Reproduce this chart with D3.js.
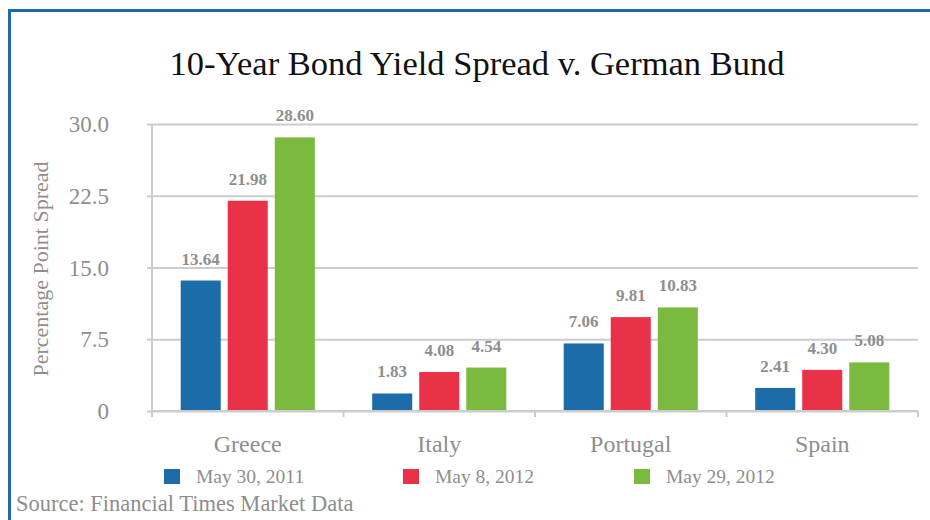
<!DOCTYPE html>
<html>
<head>
<meta charset="utf-8">
<script src="https://cdn.jsdelivr.net/npm/d3@7"></script>
<style>
  html, body { margin: 0; padding: 0; background: #fff; }
  svg { display: block; font-family: "Liberation Serif", "DejaVu Serif", serif; }
</style>
</head>
<body>
<div id="chart"></div>
<script>
// Data
const countries = ['Greece', 'Italy', 'Portugal', 'Spain'];
const dates = ['May 30, 2011', 'May 8, 2012', 'May 29, 2012'];
const may2011 = [13.64, 1.83, 7.06, 2.41];
const may2012a = [21.98, 4.08, 9.81, 4.30];
const may2012b = [28.60, 4.54, 10.83, 5.08];
const yTicks = [0, 7.5, 15, 22.5, 30];
const yTickLabels = ['0', '7.5', '15.0', '22.5', '30.0'];

const seriesValues = [may2011, may2012a, may2012b];
const colors = ['#1b6ca8', '#e93148', '#7aba3e'];

const W = 930, H = 520;
const plotLeft = 152, plotRight = 918, plotTop = 124, plotBottom = 411;
const grey = '#8e8e8e';

const svg = d3.select('#chart').append('svg')
    .attr('width', W)
    .attr('height', H);

// Frame (top + left blue rule)
svg.append('path')
    .attr('d', `M9.5,${H} V10.5 H${W}`)
    .attr('fill', 'none')
    .attr('stroke', '#1d6ca8')
    .attr('stroke-width', 3);

// Title
svg.append('text')
    .attr('x', 477)
    .attr('y', 75)
    .attr('text-anchor', 'middle')
    .style('font-size', '34.5px')
    .style('fill', '#111')
    .text('10-Year Bond Yield Spread v. German Bund');

// Scales
const x0 = d3.scaleBand()
    .domain(countries)
    .range([plotLeft, plotRight])
    .padding(0);

const x1 = d3.scaleBand()
    .domain(d3.range(dates.length))
    .range([0, x0.bandwidth()])
    .paddingInner(0.149)
    .paddingOuter(0.61);

const y = d3.scaleLinear()
    .domain([0, 30])
    .range([plotBottom, plotTop]);

// Grid lines
const grid = svg.append('g')
    .attr('transform', `translate(${plotLeft},0)`)
    .call(d3.axisLeft(y)
        .tickValues(yTicks)
        .tickSize(-(plotRight - plotLeft))
        .tickFormat(''));
grid.select('.domain').remove();
grid.selectAll('.tick line')
    .attr('x1', -5)
    .attr('stroke', '#cccccc')
    .attr('stroke-width', 2);

// Y tick labels
svg.append('g')
    .selectAll('text')
    .data(yTicks)
    .enter()
    .append('text')
    .attr('x', 109)
    .attr('y', d => y(d))
    .attr('dy', '0.35em')
    .attr('text-anchor', 'end')
    .style('font-size', '23px')
    .style('fill', grey)
    .text((d, i) => yTickLabels[i]);

// Y axis line
svg.append('line')
    .attr('x1', plotLeft).attr('x2', plotLeft)
    .attr('y1', plotTop).attr('y2', plotBottom + 6)
    .attr('stroke', '#cccccc')
    .attr('stroke-width', 2);

// Y axis title
svg.append('text')
    .attr('transform', `translate(48,269) rotate(-90)`)
    .attr('text-anchor', 'middle')
    .style('font-size', '22px')
    .style('fill', grey)
    .text('Percentage Point Spread');

// Bars
const groups = svg.append('g')
    .selectAll('g')
    .data(countries)
    .enter()
    .append('g')
    .attr('transform', d => `translate(${x0(d)},0)`);

groups.selectAll('rect')
    .data((d, ci) => seriesValues.map((s, si) => ({ si, v: s[ci] })))
    .enter()
    .append('rect')
    .attr('x', d => x1(d.si))
    .attr('y', d => y(d.v))
    .attr('width', x1.bandwidth())
    .attr('height', d => plotBottom - y(d.v))
    .attr('fill', d => colors[d.si]);

groups.selectAll('text.val')
    .data((d, ci) => seriesValues.map((s, si) => ({ si, v: s[ci] })))
    .enter()
    .append('text')
    .attr('class', 'val')
    .attr('x', d => x1(d.si) + x1.bandwidth() / 2)
    .attr('y', d => y(d.v) - 16)
    .attr('text-anchor', 'middle')
    .style('font-size', '17px')
    .style('font-weight', 'bold')
    .style('fill', grey)
    .text(d => d.v.toFixed(2));

// X axis
const xAxis = svg.append('g')
    .attr('transform', `translate(0,${plotBottom})`)
    .call(d3.axisBottom(x0).tickSize(0).tickFormat(''));
xAxis.select('.domain')
    .attr('d', `M${plotLeft},0H${plotRight}`)
    .attr('stroke', '#cccccc')
    .attr('stroke-width', 2);

// Category separators
svg.append('g')
    .selectAll('line')
    .data(countries.concat(['end']))
    .enter()
    .append('line')
    .attr('x1', (d, i) => i < countries.length ? x0(d) : plotRight)
    .attr('x2', (d, i) => i < countries.length ? x0(d) : plotRight)
    .attr('y1', plotBottom)
    .attr('y2', plotBottom + 6)
    .attr('stroke', '#cccccc')
    .attr('stroke-width', 2);

// Category labels
svg.append('g')
    .selectAll('text')
    .data(countries)
    .enter()
    .append('text')
    .attr('x', d => x0(d) + x0.bandwidth() / 2)
    .attr('y', 452)
    .attr('text-anchor', 'middle')
    .style('font-size', '24px')
    .style('fill', grey)
    .text(d => d);

// Legend
const legendX = [164, 403, 634];
const legend = svg.append('g')
    .selectAll('g')
    .data(dates)
    .enter()
    .append('g')
    .attr('transform', (d, i) => `translate(${legendX[i]},469)`);

legend.append('rect')
    .attr('width', 16)
    .attr('height', 15)
    .attr('fill', (d, i) => colors[i]);

legend.append('text')
    .attr('x', 32)
    .attr('y', 14)
    .style('font-size', '19.5px')
    .style('fill', grey)
    .text(d => d);

// Source
svg.append('text')
    .attr('x', 16)
    .attr('y', 511)
    .style('font-size', '22.5px')
    .style('fill', grey)
    .text('Source: Financial Times Market Data');
</script>
</body>
</html>
